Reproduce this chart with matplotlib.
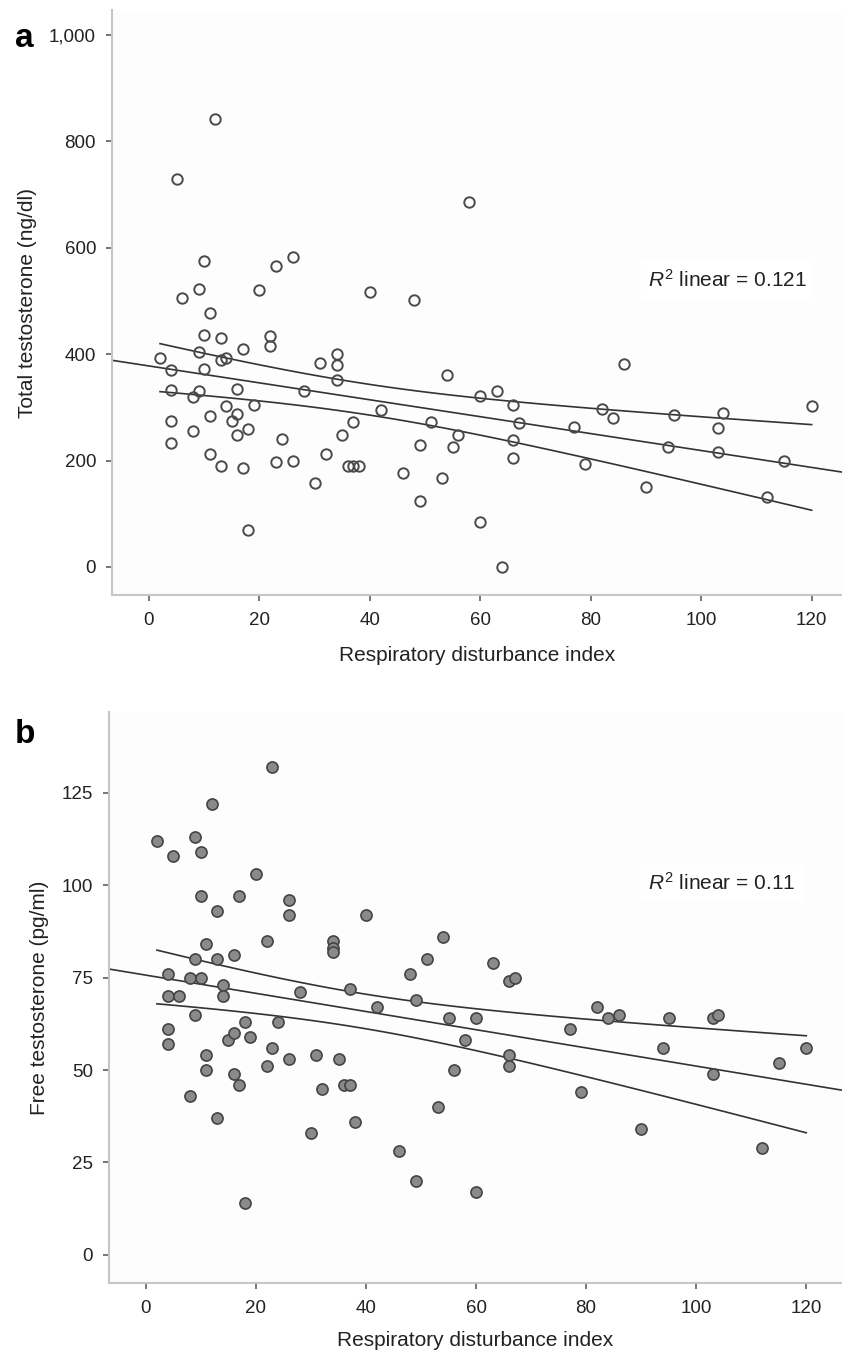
import numpy as np
import matplotlib.pyplot as plt

plt.rcParams['font.family'] = ['Liberation Sans', 'DejaVu Sans']
plt.rcParams['mathtext.fontset'] = 'custom'
plt.rcParams['mathtext.it'] = 'Liberation Sans:italic'
plt.rcParams['mathtext.rm'] = 'Liberation Sans'

#panel a: respiratory disturbance index vs total testosterone
rdi_a = [2, 4, 4, 4, 4, 5, 6, 8, 8, 9, 9, 9, 10, 10, 10, 11, 11, 11, 12,
         13, 13, 13, 14, 14, 15, 16, 16, 16, 17, 17, 18, 18, 19, 20, 22, 22,
         23, 23, 24, 26, 26, 28, 30, 31, 32, 34, 34, 34, 35, 36, 37, 38, 37,
         40, 42, 46, 48, 49, 49, 51, 53, 54, 55, 56, 58, 60, 60, 63, 64, 66,
         66, 66, 67, 77, 79, 82, 84, 86, 90, 94, 95, 103, 103, 104, 112, 115, 120]
total_t = [393, 370, 333, 275, 233, 730, 505, 320, 255, 523, 405, 330, 575,
           437, 372, 478, 283, 212, 842, 430, 390, 190, 393, 302, 275, 335,
           288, 248, 410, 186, 260, 70, 305, 520, 435, 415, 565, 197, 240,
           583, 200, 330, 157, 383, 212, 400, 380, 352, 248, 190, 190, 190,
           273, 517, 295, 177, 502, 230, 125, 272, 168, 360, 225, 248, 686,
           322, 85, 330, 0, 305, 238, 205, 270, 263, 193, 297, 280, 382, 150,
           225, 285, 262, 217, 290, 132, 200, 302]

#panel b: respiratory disturbance index vs free testosterone
rdi_b = [2, 4, 4, 4, 4, 5, 6, 8, 8, 9, 9, 9, 10, 10, 10, 11, 11, 11, 12,
         13, 13, 13, 14, 14, 15, 16, 16, 16, 17, 17, 18, 18, 19, 20, 22, 22,
         23, 23, 24, 26, 26, 26, 28, 30, 31, 32, 34, 34, 34, 35, 36, 37, 37,
         38, 40, 42, 46, 48, 49, 49, 51, 53, 54, 55, 56, 58, 60, 60, 63, 66,
         66, 66, 67, 77, 79, 82, 84, 86, 90, 94, 95, 103, 103, 104, 112, 115, 120]
free_t = [112, 76, 70, 61, 57, 108, 70, 75, 43, 113, 80, 65, 109, 97, 75,
          84, 54, 50, 122, 93, 80, 37, 73, 70, 58, 81, 60, 49, 97, 46, 63, 14,
          59, 103, 85, 51, 132, 56, 63, 96, 92, 53, 71, 33, 54, 45, 85, 83, 82,
          53, 46, 46, 72, 36, 92, 67, 28, 76, 69, 20, 80, 40, 86, 64, 50, 58,
          64, 17, 79, 74, 54, 51, 75, 61, 44, 67, 64, 65, 34, 56, 64, 64, 49,
          65, 29, 52, 56]

r2_labels = ['0.121', '0.11']
y_titles = ['Total testosterone (ng/dl)', 'Free testosterone (pg/ml)']
x_title = 'Respiratory disturbance index'
x_ticks = [0, 20, 40, 60, 80, 100, 120]
y_ticks_a = [0, 200, 400, 600, 800, 1000]
y_labels_a = ['0', '200', '400', '600', '800', '1,000']
y_ticks_b = [0, 25, 50, 75, 100, 125]


def fit_lines(ax, x, y, xlim):
    x = np.array(x, dtype=float)
    y = np.array(y, dtype=float)
    slope, icpt = np.polyfit(x, y, 1)
    n = len(x)
    resid = y - (icpt + slope * x)
    s = np.sqrt(np.sum(resid ** 2) / (n - 2))
    sxx = np.sum((x - x.mean()) ** 2)
    t = 1.99
    xx = np.linspace(x.min(), x.max(), 100)
    yy = icpt + slope * xx
    half = t * s * np.sqrt(1.0 / n + (xx - x.mean()) ** 2 / sxx)
    xl = np.array(xlim)
    ax.plot(xl, icpt + slope * xl, color='#333333', lw=1.2, zorder=2)
    ax.plot(xx, yy + half, color='#333333', lw=1.2, zorder=2)
    ax.plot(xx, yy - half, color='#333333', lw=1.2, zorder=2)


def style_axes(ax):
    ax.set_facecolor('#fdfdfd')
    for side in ['top', 'right']:
        ax.spines[side].set_visible(False)
    for side in ['left', 'bottom']:
        ax.spines[side].set_color('#c6c6c6')
        ax.spines[side].set_linewidth(1.5)
    ax.tick_params(axis='y', direction='out', length=4.5, width=1.3,
                   color='#6a6a6a', labelsize=13.5, pad=7, labelcolor='#222222')
    ax.tick_params(axis='x', direction='out', length=4.5, width=1.3,
                   color='#6a6a6a', labelsize=13.5, pad=8, labelcolor='#222222')


fig = plt.figure(figsize=(8.42, 13.55), dpi=100)

#a
ax1 = fig.add_axes([0.133, 0.5609, 0.867, 0.4317])
style_axes(ax1)
xlim_a = (-6.7, 125.5)
ax1.set_xlim(*xlim_a)
ax1.set_ylim(-52.6, 1047)
fit_lines(ax1, rdi_a, total_t, xlim_a)
ax1.plot(rdi_a, total_t, 'o', ms=7.5, mfc='none', mec='#4a4a4a', mew=1.4,
         ls='none', zorder=3)
ax1.set_xticks(x_ticks)
ax1.set_yticks(y_ticks_a)
ax1.set_yticklabels(y_labels_a)
ax1.set_xlabel(x_title, fontsize=15, labelpad=12, color='#222222')
ax1.set_ylabel(y_titles[0], fontsize=15, labelpad=9, color='#222222')
ax1.text(90.4, 539, r'$R^2$' + ' linear = ' + r2_labels[0], fontsize=15,
         va='center', ha='left', color='#222222',
         bbox=dict(facecolor='white', edgecolor='none', pad=5))
fig.text(0.0178, 0.9653, 'a', fontsize=24, fontweight='bold', va='baseline')

#b
ax2 = fig.add_axes([0.1295, 0.0531, 0.8705, 0.4214])
style_axes(ax2)
xlim_b = (-6.7, 126.5)
ax2.set_xlim(*xlim_b)
ax2.set_ylim(-7.6, 146.8)
fit_lines(ax2, rdi_b, free_t, xlim_b)
ax2.plot(rdi_b, free_t, 'o', ms=8, mfc='#8a8a8a', mec='#444444', mew=1.2,
         ls='none', zorder=3)
ax2.set_xticks(x_ticks)
ax2.set_yticks(y_ticks_b)
ax2.set_xlabel(x_title, fontsize=15, labelpad=10, color='#222222')
ax2.set_ylabel(y_titles[1], fontsize=15, labelpad=9, color='#222222')
ax2.text(91.3, 100.5, r'$R^2$' + ' linear = ' + r2_labels[1], fontsize=15,
         va='center', ha='left', color='#222222',
         bbox=dict(facecolor='white', edgecolor='none', pad=5))
fig.text(0.0178, 0.4517, 'b', fontsize=24, fontweight='bold', va='baseline')

fig.savefig('out.png', dpi=100)
